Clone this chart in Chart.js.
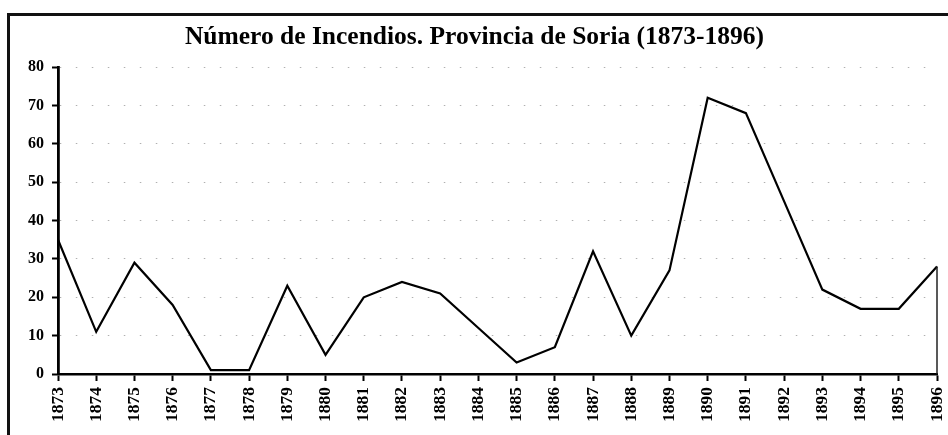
<!DOCTYPE html>
<html>
<head>
<meta charset="utf-8">
<script src="https://cdn.jsdelivr.net/npm/chart.js@4"></script>
<style>
  html, body { margin: 0; padding: 0; background: #fff; }
  #wrap { position: relative; width: 948px; height: 435px; overflow: hidden; }
  #frame {
    position: absolute; left: 7px; top: 13px; width: 960px; height: 440px;
    border-top: 3px solid #111; border-left: 3px solid #111; pointer-events: none;
  }
  canvas { position: absolute; left: 0; top: 0; }
</style>
</head>
<body>
<div id="wrap">
  <canvas id="fireChart" width="948" height="435"></canvas>
  <div id="frame"></div>
</div>
<script>
// Data
const years = ['1873', '1874', '1875', '1876', '1877', '1878', '1879', '1880', '1881', '1882', '1883', '1884',
               '1885', '1886', '1887', '1888', '1889', '1890', '1891', '1892', '1893', '1894', '1895', '1896'];
const fires = [35, 11, 29, 18, 1, 1, 23, 5, 20, 24, 21, 12,
               3, 7, 32, 10, 27, 72, 68, 45, 22, 17, 17, 28];
const yTicks = [0, 10, 20, 30, 40, 50, 60, 70, 80];

const serif = "'Liberation Serif', 'Times New Roman', serif";

// right edge of plot area, only visible below the last point in the scan
const edgeLine = {
  id: 'edgeLine',
  afterDatasetsDraw(chart) {
    const { ctx, chartArea, scales } = chart;
    const yTop = scales.y.getPixelForValue(fires[fires.length - 1]);
    ctx.save();
    ctx.strokeStyle = '#222';
    ctx.lineWidth = 1.5;
    ctx.beginPath();
    ctx.moveTo(chartArea.right, yTop);
    ctx.lineTo(chartArea.right, chartArea.bottom);
    ctx.stroke();
    ctx.restore();
  }
};

const ctx = document.getElementById('fireChart').getContext('2d');
new Chart(ctx, {
  type: 'line',
  data: {
    labels: years,
    datasets: [{
      data: fires,
      borderColor: '#000',
      borderWidth: 2.2,
      pointRadius: 0,
      fill: false,
      tension: 0
    }]
  },
  options: {
    responsive: false,
    animation: false,
    layout: { padding: { left: 12, right: 11, top: 0, bottom: 0 } },
    plugins: {
      legend: { display: false },
      tooltip: { enabled: false },
      title: {
        display: true,
        text: 'Número de Incendios. Provincia de Soria (1873-1896)',
        color: '#000',
        font: { family: serif, size: 25.5, weight: 'bold' },
        padding: { top: 22, bottom: 14.5 }
      }
    },
    scales: {
      x: {
        offset: false,
        afterFit(scale) {
          scale.height = 61;
          scale.paddingLeft = 0;
          scale.paddingRight = 0;
        },
        grid: {
          drawOnChartArea: false,
          tickLength: 7,
          tickColor: '#000',
          tickWidth: 2,
          tickBorderDash: []
        },
        border: { color: '#000', width: 2.5 },
        ticks: {
          color: '#000',
          minRotation: 90,
          maxRotation: 90,
          autoSkip: false,
          padding: 6,
          font: { family: serif, size: 17.5, weight: 'bold' }
        }
      },
      y: {
        min: 0,
        max: 80,
        afterFit(scale) { scale.width = 46; },
        afterBuildTicks(scale) { scale.ticks = yTicks.map(v => ({ value: v })); },
        grid: {
          color: '#b0b0b0',
          lineWidth: 1,
          tickLength: 6,
          tickColor: '#000',
          tickWidth: 2,
          tickBorderDash: []
        },
        border: { color: '#000', width: 2.8, dash: [1.5, 14.5] },
        ticks: {
          color: '#000',
          padding: 8,
          font: { family: serif, size: 16, weight: 'bold' }
        }
      }
    }
  },
  plugins: [edgeLine]
});
</script>
</body>
</html>
